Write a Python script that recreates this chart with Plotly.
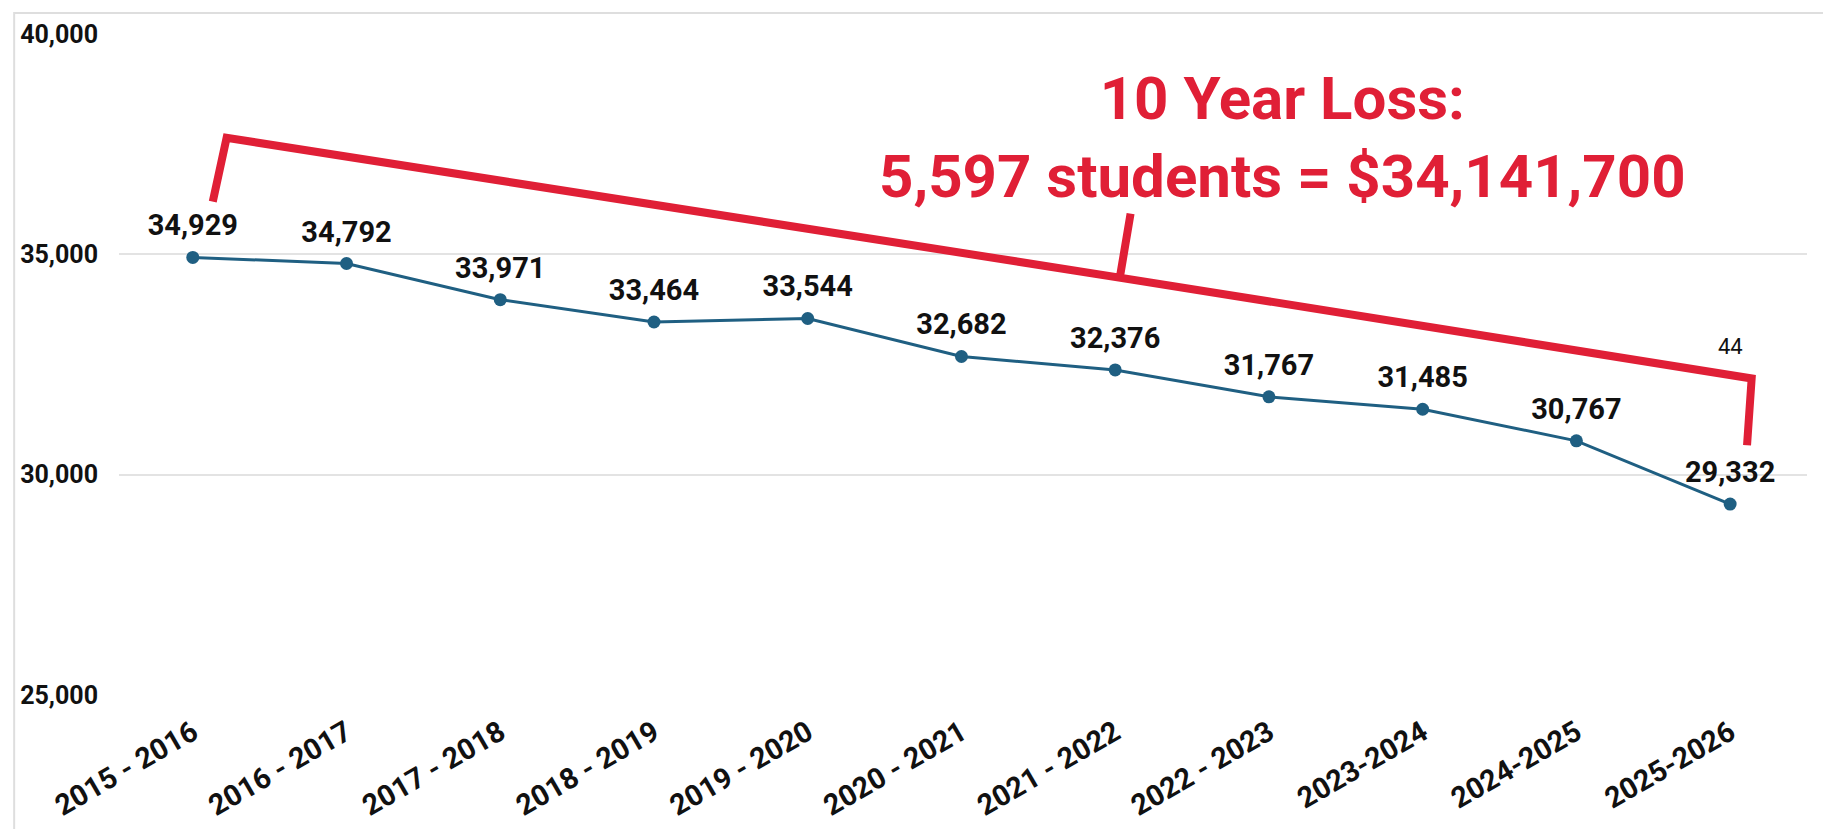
import plotly.graph_objects as go

anos = ["2015 - 2016", "2016 - 2017", "2017 - 2018", "2018 - 2019", "2019 - 2020",
        "2020 - 2021", "2021 - 2022", "2022 - 2023", "2023-2024", "2024-2025", "2025-2026"]
matriculas = [34929, 34792, 33971, 33464, 33544, 32682, 32376, 31767, 31485, 30767, 29332]

y_ticks = [25000, 30000, 35000, 40000]

# colchete vermelho (posicao em indice de categoria / valor)
colchete_x = [0.13, 0.22, 6.03, 6.10, 6.03, 10.14, 10.11]
colchete_y = [36194, 37644, 34472, 35922, 34472, 32184, 30666]

titulo_perda = "10 Year Loss:<br>5,597 students = $34,141,700"

VERMELHO = "#e01f36"
AZUL = "#1f5f82"

fig = go.Figure()

fig.add_trace(go.Scatter(x=colchete_x, y=colchete_y, mode='lines',
                         line=dict(color=VERMELHO, width=8),
                         hoverinfo='skip', showlegend=False))

fig.add_trace(go.Scatter(x=list(range(len(anos))), y=matriculas, mode='lines+markers',
                         line=dict(color=AZUL, width=3),
                         marker=dict(color=AZUL, size=13),
                         showlegend=False))

# rotulos (marcador invisivel maior so para afastar o texto do ponto)
fig.add_trace(go.Scatter(x=list(range(len(anos))), y=matriculas, mode='markers+text',
                         marker=dict(color='rgba(0,0,0,0)', size=22),
                         texttemplate='%{y:,}', textposition='top center',
                         textfont=dict(family='Roboto', size=29, color='#111111', weight='bold'),
                         cliponaxis=False, hoverinfo='skip', showlegend=False))

fig.add_annotation(x=0.689, y=0.8437, xref='paper', yref='paper', text=titulo_perda,
                   showarrow=False, align='center', xanchor='center', yanchor='middle',
                   font=dict(family='Roboto', size=60, color=VERMELHO, weight='bold'))

fig.add_annotation(x=10.0, y=32909, text="44", showarrow=False,
                   xanchor='center', yanchor='middle',
                   font=dict(family='Roboto', size=22, color='#111111'))

# moldura do cartao
fig.add_shape(type='rect', xref='paper', yref='paper', x0=-0.0621, x1=1.0112, y0=-0.25, y1=1.0317,
              line=dict(color='#dedede', width=2), layer='below')

fig.update_layout(width=1831, height=829,
                  margin=dict(l=109, r=32, t=25, b=142),
                  plot_bgcolor='white', paper_bgcolor='white',
                  font=dict(family='Roboto'),
                  showlegend=False)

fig.update_xaxes(range=[-0.48, 10.5], tickvals=list(range(len(anos))), ticktext=anos,
                 tickangle=-30, showgrid=False, zeroline=False, showline=False,
                 ticklabelstandoff=14,
                 tickfont=dict(family='Roboto', size=29, color='#111111', weight='bold'))

fig.update_yaxes(range=[25000, 40000], tickvals=y_ticks, tickformat=',',
                 showgrid=True, gridcolor='#e3e3e3', gridwidth=2, zeroline=False, showline=False,
                 ticklabelstandoff=20,
                 tickfont=dict(family='Roboto', size=25, color='#111111', weight='bold'))

fig.write_html("out.html")
